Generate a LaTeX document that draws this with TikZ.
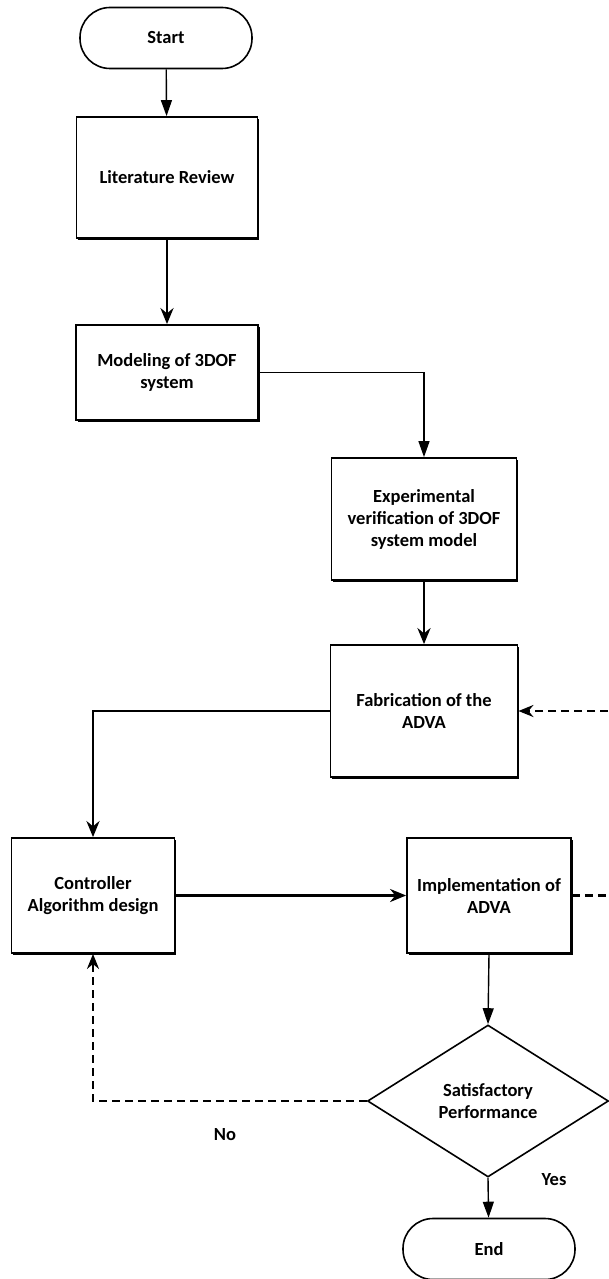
\documentclass[tikz,border=0pt]{standalone}
\usepackage{fontspec}
\setmainfont{Carlito}
\usetikzlibrary{arrows.meta,shapes.geometric,shadows}

\tikzset{
  every node/.style={font=\bfseries\fontsize{18.5}{22}\selectfont, align=center},
  stepbox/.style={draw, line width=1.8pt, fill=white, inner sep=0pt,
    drop shadow={shadow xshift=1.8pt, shadow yshift=-1.8pt, fill=black, opacity=1}},
  terminal/.style={draw, line width=1.6pt, rounded corners=30pt, inner sep=0pt,
    minimum width=172pt, minimum height=61pt},
  decision/.style={draw, shape=diamond, line width=1.6pt, inner sep=0pt,
    minimum width=241pt, minimum height=152pt},
  thinline/.style={line width=1.4pt, -{Triangle[length=16pt,width=11pt]}},
  thickline/.style={line width=2.6pt, -{Stealth[length=16pt,width=13pt]}},
  dashline/.style={line width=2.4pt, dash pattern=on 8pt off 5pt},
  dasharrow/.style={dashline, -{Stealth[length=15pt,width=12pt]}}
}

\begin{document}
\begin{tikzpicture}[x=1pt, y=-1pt]

\useasboundingbox (0,0) rectangle (608,1279);

\node[terminal] (start) at (166,38) {Start};
\node[stepbox, minimum width=181pt, minimum height=121pt] (lit) at (167,177.5) {Literature Review};
\node[stepbox, minimum width=182pt, minimum height=95pt] (model) at (167,372.5) {Modeling of 3DOF\\system};
\node[stepbox, minimum width=185pt, minimum height=122pt] (exper) at (424,519) {Experimental\\verification of 3DOF\\system model};
\node[stepbox, minimum width=187pt, minimum height=132pt] (fab) at (424,711) {Fabrication of the\\ADVA};
\node[stepbox, minimum width=163pt, minimum height=115pt] (ctrl) at (93,895.5) {Controller\\Algorithm design};
\node[stepbox, minimum width=164pt, minimum height=115pt] (impl) at (489,895.5) {Implementation of\\ADVA};
\node[decision] (check) at (488,1101) {Satisfactory\\Performance};
\node[terminal] (stop) at (489,1249) {End};

\node (no) at (225,1135) {No};
\node (yes) at (554,1180) {Yes};

\coordinate (fabedge) at (608,711);
\coordinate (impledge) at (608,895.5);

\draw[thinline] (start) -- (lit);
\draw[thickline] (lit) -- (model);
\draw[thinline] (model.east) -| (exper.north);
\draw[thickline] (exper) -- (fab);
\draw[thickline] (fab.west) -| (ctrl.north);
\draw[thickline] (ctrl) -- (impl);
\draw[thinline] (impl.south) -- (check.north);
\draw[thinline] (check.south) -- (stop);
\draw[dasharrow] (check.west) -| (ctrl.south);
\draw[dasharrow] (fabedge) -- (fab.east);
\draw[dashline] (impl.east) -- (impledge);

\end{tikzpicture}
\end{document}
